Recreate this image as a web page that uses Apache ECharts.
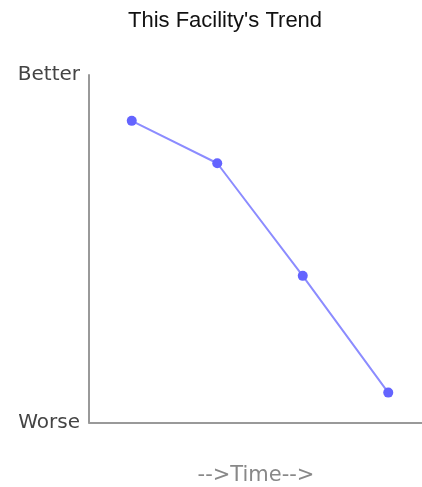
<!DOCTYPE html>
<html>
<head>
<meta charset="utf-8">
<script src="https://cdn.jsdelivr.net/npm/echarts@6/dist/echarts.min.js"></script>
<style>html,body{margin:0;padding:0;background:#fff;}#c{width:422px;height:487px;}</style>
</head>
<body>
<div id="c"></div>
<script>
var periods = ['P1', 'P2', 'P3', 'P4'];
var trendValues = [86.8, 74.6, 42.2, 8.6];
var yTickLabels = { 0: 'Worse', 100: 'Better' };
var chartTitle = "This Facility's Trend";
var xAxisTitle = '-->Time-->';

var chart = echarts.init(document.getElementById('c'), null, { renderer: 'canvas' });
chart.setOption({
  animation: false,
  backgroundColor: '#ffffff',
  title: {
    text: chartTitle,
    left: 123,
    top: 5,
    textStyle: { fontFamily: 'Liberation Sans', fontSize: 22, fontWeight: 'normal', color: '#111' }
  },
  grid: { left: 89, right: -9, top: 75, bottom: 64.5, containLabel: false, outerBoundsMode: 'none' },
  xAxis: {
    type: 'category',
    data: periods,
    boundaryGap: true,
    axisLine: { lineStyle: { color: '#999', width: 2 } },
    axisTick: { show: false },
    axisLabel: { show: false },
    splitLine: { show: false },
    name: xAxisTitle,
    nameLocation: 'middle',
    nameGap: 43,
    nameTextStyle: { fontFamily: 'DejaVu Sans', fontSize: 21, color: '#888', padding: [0, 8, 0, 0] }
  },
  yAxis: {
    type: 'value',
    min: 0,
    max: 100,
    interval: 100,
    axisLine: { show: true, lineStyle: { color: '#999', width: 2 } },
    axisTick: { show: false },
    splitLine: { show: false },
    axisLabel: {
      margin: 9,
      fontFamily: 'DejaVu Sans',
      fontSize: 20,
      color: '#444',
      formatter: function (v) { return yTickLabels[v] || ''; }
    }
  },
  series: [{
    type: 'line',
    data: trendValues,
    symbol: 'circle',
    symbolSize: 10,
    lineStyle: { color: '#8c8cff', width: 2 },
    itemStyle: { color: '#6464ff' }
  }]
});
</script>
</body>
</html>
